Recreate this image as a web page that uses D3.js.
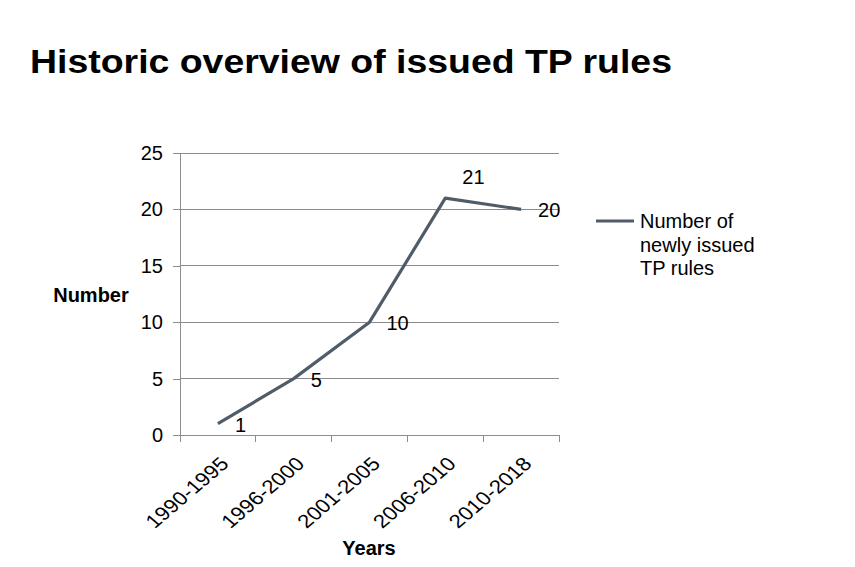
<!DOCTYPE html>
<html><head><meta charset="utf-8">
<script src="https://cdn.jsdelivr.net/npm/d3@7"></script>
<style>body{margin:0;background:#fff}svg{display:block}text{font-family:"Liberation Sans",Arial,sans-serif;fill:#000}</style>
</head><body><svg id="c" width="855" height="567"></svg>
<script>
const categories = ["1990-1995","1996-2000","2001-2005","2006-2010","2010-2018"];
const values = [1,5,10,21,20];
const yTicks = [0,5,10,15,20,25];
const seriesName = ["Number of","newly issued","TP rules"];
const titleText = "Historic overview of issued TP rules";

const svg = d3.select("#c");
const L = 180, R = 559, T = 153, B = 435;
const x = d3.scaleBand().domain(categories).range([L, R]);
const y = d3.scaleLinear().domain([0, 25]).range([B, T]);
const grid = "#8c8c8c", lineC = "#505c68";
const FS = 20;

svg.append("text").attr("x", 30).attr("y", 73).attr("font-size", 33).attr("font-weight", "bold")
  .attr("textLength", 642).attr("lengthAdjust", "spacingAndGlyphs").text(titleText);

// gridlines
svg.append("g").selectAll("line").data(yTicks.filter(d => d > 0)).join("line")
  .attr("x1", L).attr("x2", R).attr("y1", d => y(d)).attr("y2", d => y(d))
  .attr("stroke", grid).attr("stroke-width", 1).attr("shape-rendering", "crispEdges");

// y axis
const ya = svg.append("g").attr("transform", `translate(${L},0)`)
  .call(d3.axisLeft(y).tickValues(yTicks).tickSize(7).tickPadding(10));
ya.selectAll("path,line").attr("stroke", grid).attr("shape-rendering", "crispEdges");
ya.select(".domain").attr("d", `M0,${T}V${B}`);
ya.selectAll("text").attr("font-size", FS).attr("font-family", "Liberation Sans, Arial, sans-serif").attr("fill", "#000");

// x axis
const xa = svg.append("g").attr("transform", `translate(0,${B})`)
  .call(d3.axisBottom(x).tickSize(0).tickFormat(""));
xa.selectAll(".tick").remove();
xa.select(".domain").attr("d", `M${L},0H${R}`).attr("stroke", grid).attr("shape-rendering", "crispEdges");
const bounds = categories.map(c => x(c)).concat([R]);
xa.selectAll("line.b").data(bounds).join("line").attr("class", "b")
  .attr("x1", d => d).attr("x2", d => d).attr("y1", 0).attr("y2", 7)
  .attr("stroke", grid).attr("shape-rendering", "crispEdges");
xa.selectAll("text.c").data(categories).join("text").attr("class", "c")
  .attr("transform", d => `translate(${x(d) + x.bandwidth() / 2 + 12},30) scale(1.17,1) rotate(-45)`)
  .attr("text-anchor", "end").attr("font-size", 19).text(d => d);

// line
const cx = (d, i) => x(categories[i]) + x.bandwidth() / 2;
svg.append("path").datum(values)
  .attr("d", d3.line().x(cx).y(d => y(d)))
  .attr("fill", "none").attr("stroke", lineC).attr("stroke-width", 3.2).attr("stroke-linejoin", "round");

// data labels
const maxV = d3.max(values);
svg.append("g").selectAll("text").data(values).join("text")
  .attr("x", (d, i) => cx(d, i) + 17)
  .attr("y", d => y(d) + (d === maxV ? -21 : 1))
  .attr("dy", "0.35em").attr("font-size", FS).text(d => d);

// axis titles
svg.append("text").attr("x", 91).attr("y", 295).attr("dy", "0.35em").attr("text-anchor", "middle")
  .attr("font-size", FS).attr("font-weight", "bold").text("Number");
svg.append("text").attr("x", 369).attr("y", 555).attr("text-anchor", "middle")
  .attr("font-size", FS).attr("font-weight", "bold").text("Years");

// legend
svg.append("line").attr("x1", 596).attr("x2", 634).attr("y1", 221).attr("y2", 221)
  .attr("stroke", lineC).attr("stroke-width", 3.2);
svg.append("g").selectAll("text").data(seriesName).join("text")
  .attr("x", 640).attr("y", (d, i) => 221 + i * 23.5).attr("dy", "0.35em").attr("font-size", FS).text(d => d);
</script></body></html>
